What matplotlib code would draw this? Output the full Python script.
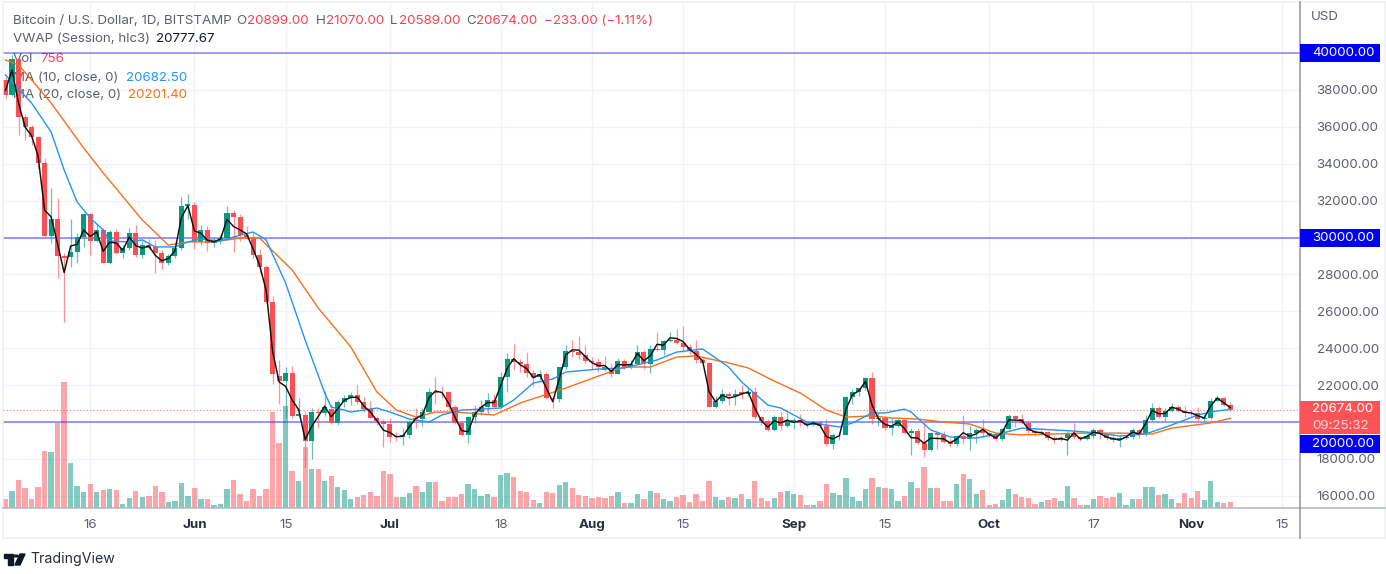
import datetime as dt
import numpy as np
import matplotlib
matplotlib.use("Agg")
import matplotlib.pyplot as plt
from matplotlib.lines import Line2D
from matplotlib.patches import Rectangle, Circle, Polygon

# --- DATA (daily candles from 3 May to 7 Nov) ---
opens = [
    38540, 37720, 39680, 36530, 36000, 35450, 34040, 30080, 31000, 29000, 28970, 29240, 30030, 31270, 29810, 30400,
    28620, 30300, 29160, 29430, 30240, 29050, 29600, 29480, 29160, 28620, 29000, 29430, 31710,
    31780, 29760, 30400, 29690, 29860, 29950, 31330, 31100, 30130, 30050, 29060, 28400, 26500, 22470, 22200,
    22630, 20330, 20400, 18980, 20570, 20500, 20720, 19950, 21100, 21290, 21480, 21080, 20700, 20240, 20070,
    19880, 19250, 19200, 19290, 20230, 20190, 20560, 21640, 21580, 21600, 20830, 19970, 19320, 20250, 20570, 20830,
    21190, 20800, 22430, 23400, 23230, 23150, 22660, 22450, 22600, 21300, 21240, 22960, 23830, 23770, 23640,
    23300, 23270, 23000, 22820, 22620, 23310, 22960, 23170, 23810, 23170, 23950, 23880, 24400, 24450, 24300,
    24090, 23860, 23340, 23200, 20840, 21130, 21520, 21400, 21650, 21530, 21600, 20260, 20030, 19550, 20290, 19800,
    20050, 20130, 19950, 19830, 20000, 19790, 18790, 19290, 19320, 21360, 21650, 21830, 22400, 20170, 20230,
    19700, 19800, 20110, 19420, 19540, 18880, 18490, 19420, 19290, 18920, 18800, 19220, 19080, 19400, 19590,
    19420, 19310, 19060, 19620, 20340, 20160, 19950, 19530, 19420, 19440, 19130, 19050, 19150, 19380, 19180, 19070,
    19260, 19550, 19330, 19120, 19040, 19160, 19210, 19570, 19330, 20090, 20770, 20290, 20590, 20830, 20620,
    20490, 20480, 20150, 20210, 21150, 21300, 20899,
]
highs = [
    38700, 39900, 39800, 36700, 36100, 35500, 34300, 32680, 32140, 29150, 31000, 30250, 31350, 31320, 30730, 30500,
    30400, 30450, 29600, 30500, 30680, 29800, 29900, 29850, 29300, 29100, 29500, 32200, 32360,
    31930, 30700, 30600, 29950, 30150, 31700, 31500, 31300, 30650, 30300, 29400, 28500, 26830, 23360, 22960,
    23030, 21300, 20600, 20750, 20750, 21680, 20950, 21200, 21450, 21600, 21980, 21350, 21150, 20350, 20150,
    20200, 19450, 19650, 20100, 20750, 20750, 21850, 22450, 21950, 21620, 20900, 20050, 20300, 20900, 21200, 21550,
    21500, 22730, 23740, 24250, 23400, 23800, 22800, 22800, 22700, 21350, 23000, 24200, 24460, 24660, 24150,
    23500, 23450, 23600, 23150, 23450, 23400, 23350, 24200, 23900, 24200, 24900, 24450, 24880, 25050, 25200,
    24250, 24450, 23600, 23250, 21400, 21800, 21600, 21800, 22000, 21900, 21900, 20350, 20150, 20400, 20550, 20500,
    20200, 20450, 20000, 20050, 20050, 20150, 19400, 19450, 21400, 21800, 21850, 22450, 22730, 20500, 20350,
    20200, 20150, 20150, 19700, 19700, 19950, 19480, 19500, 19500, 19150, 19300, 20380, 19800, 19650, 20170,
    19480, 19400, 19700, 20450, 20380, 20440, 20050, 19620, 19550, 19520, 19250, 19220, 19500, 19950, 19220, 19350,
    19650, 19700, 19360, 19350, 19250, 19250, 19700, 19600, 20400, 21050, 20850, 20750, 21050, 20930, 20850,
    20650, 20800, 20400, 21300, 21480, 21360, 21070,
]
lows = [
    37500, 37650, 35550, 35280, 35000, 33700, 30050, 29700, 27800, 25420, 28400, 28600, 29500, 29050, 29780, 28600,
    28550, 29100, 28900, 29350, 28950, 28900, 29300, 28070, 28300, 28500, 28900, 29350, 31000,
    29400, 29600, 29250, 29500, 29650, 29900, 29200, 29800, 29900, 28900, 28050, 26450, 22050, 20950, 20200,
    20200, 20250, 17570, 18000, 19650, 20350, 19900, 19850, 20800, 20900, 21000, 20550, 20200, 19850, 18640,
    18900, 18950, 18750, 19150, 19650, 19800, 20500, 21000, 21300, 20650, 19900, 19250, 18860, 19950, 20400, 20450,
    20750, 20750, 21600, 22800, 22700, 22450, 21950, 22300, 21250, 20750, 21100, 22900, 23500, 23400, 23200,
    22900, 22700, 22750, 22450, 22600, 22900, 22850, 23150, 22900, 22650, 23850, 23650, 24350, 24250, 23800,
    23700, 23200, 23150, 20800, 20780, 21050, 20900, 20900, 21250, 21400, 20150, 19850, 19500, 19500, 19550, 19750,
    19600, 19800, 19650, 19800, 19650, 18700, 18550, 19000, 19300, 21000, 21400, 21750, 19900, 19800, 19550,
    19300, 19750, 19350, 18200, 18800, 18100, 18450, 18550, 18850, 18650, 18700, 18800, 18500, 18850, 19200,
    19200, 18950, 18950, 19550, 19750, 19880, 19350, 19250, 19300, 19000, 18850, 18980, 18190, 19100, 18950, 19050,
    19150, 19100, 19050, 18900, 18650, 19100, 19080, 19150, 19250, 20050, 20200, 20050, 20550, 20550, 20250,
    20350, 20050, 20050, 20180, 21120, 20880, 20589,
]
closes = [
    37720, 39680, 36530, 36000, 35450, 34040, 30080, 31000, 29000, 28880, 29240, 30030, 31270, 29810, 30400, 28620,
    30300, 29160, 29430, 30240, 29050, 29600, 29430, 29160, 28620, 29000, 29430, 31710, 31790,
    29760, 30400, 29690, 29860, 29950, 31330, 31100, 30130, 30050, 29060, 28400, 26500, 22600, 22200, 22630,
    20330, 20450, 18980, 20570, 20500, 20800, 19950, 21100, 21290, 21480, 21080, 20700, 20240, 20070, 19880,
    19200, 19200, 19290, 20000, 20190, 20560, 21640, 21580, 21560, 20830, 19970, 19320, 20250, 20570, 20830, 21190,
    20800, 22430, 23400, 23230, 23150, 22660, 22450, 22600, 21300, 21240, 22960, 23830, 23770, 23640, 23300,
    23270, 23000, 22820, 22620, 23310, 22960, 23170, 23810, 23170, 23950, 23880, 24400, 24450, 24300, 24090,
    23860, 23340, 23200, 20840, 21130, 21520, 21400, 21530, 21520, 21600, 20260, 20030, 19550, 20290, 19800, 20050,
    20130, 19950, 19830, 20000, 19790, 18790, 19290, 19320, 21360, 21650, 21830, 22400, 20170, 20230, 19700,
    19800, 20110, 19420, 19540, 18880, 18490, 19420, 19290, 18920, 18800, 19220, 19080, 19400, 19590, 19420,
    19310, 19060, 19620, 20340, 20160, 19950, 19530, 19420, 19440, 19130, 19050, 19150, 19380, 19180, 19070, 19260,
    19550, 19330, 19120, 19040, 19160, 19210, 19570, 19330, 20090, 20770, 20290, 20590, 20830, 20620, 20490,
    20480, 20150, 20210, 21150, 21300, 20920, 20674,
]
vwap = [
    37970, 39080, 37290, 35990, 35520, 34410, 31480, 31120, 29650, 28100, 29540, 29630, 30410, 30060, 30300, 29250,
    29750, 29700, 29310, 30030, 29560, 29430, 29540, 29030, 28740, 28870, 29280, 31090, 31720,
    30360, 30230, 29850, 29770, 29920, 30980, 30600, 30410, 30200, 29390, 28500, 27150, 23830, 22170, 21930,
    21190, 20670, 19050, 19770, 20300, 20860, 20280, 20720, 21180, 21330, 21350, 20870, 20550, 20080, 19560,
    19430, 19200, 19230, 19750, 20200, 20370, 21330, 21680, 21600, 21030, 20260, 19540, 19470, 20400, 20800, 21060,
    21050, 21960, 22910, 23430, 23100, 22900, 22400, 22570, 21850, 21100, 22350, 23640, 23910, 23900, 23550,
    23220, 23050, 23060, 22740, 23120, 23090, 23120, 23720, 23320, 23600, 24210, 24170, 24560, 24530, 24360,
    23940, 23660, 23320, 21630, 21100, 21460, 21300, 21380, 21520, 21630, 20770, 20080, 19720, 20060, 19960, 20100,
    19980, 20070, 19830, 19950, 19830, 19210, 19080, 19260, 20690, 21480, 21690, 22200, 20930, 20180, 19870,
    19770, 20000, 19640, 19150, 19130, 18850, 19120, 19110, 19090, 18870, 19070, 19420, 19230, 19360, 19600,
    19330, 19140, 19440, 20120, 20100, 20090, 19630, 19460, 19420, 19220, 19050, 19120, 19020, 19410, 19080, 19220,
    19450, 19380, 19180, 19100, 19020, 19190, 19450, 19360, 19910, 20630, 20450, 20460, 20810, 20700, 20530,
    20490, 20340, 20220, 20880, 21300, 21050, 20780,
]
# volume in bar heights as read, one unit is roughly 126 on the chart's own scale
volumes = [
    9, 17, 28, 20, 9, 21, 57, 56, 85, 126, 45, 22, 16, 24, 16, 18, 19, 18, 4, 10, 17, 11, 12, 22, 16, 6, 7, 25, 12,
    20, 9, 9, 3, 4, 19, 28, 14, 7, 19, 12, 19, 96, 65, 102, 37, 27, 61, 39, 39, 27, 32, 21, 18, 9, 11, 13, 16, 12, 37,
    34, 11, 11, 15, 22, 16, 26, 26, 7, 11, 11, 14, 24, 19, 12, 14, 11, 33, 35, 31, 17, 16, 8, 5, 16, 15, 23, 26, 20, 13, 12,
    10, 11, 10, 12, 16, 5, 5, 14, 9, 17, 15, 9, 7, 11, 13, 6, 14, 7, 27, 11, 8, 11, 10, 14, 9, 27, 10, 7, 10, 16, 17,
    14, 13, 3, 3, 7, 24, 15, 13, 30, 11, 7, 19, 30, 21, 20, 19, 7, 12, 26, 20, 41, 20, 20, 7, 7, 24, 34, 29, 14, 18,
    3, 4, 8, 19, 14, 11, 10, 4, 6, 8, 10, 7, 22, 10, 3, 3, 9, 12, 10, 11, 15, 3, 9, 9, 21, 21, 13, 14, 9, 5, 15,
    10, 17, 8, 27, 6, 5, 6,
]
ma10_days = [0, 4, 7, 9, 11, 13, 15, 16, 19, 21, 23, 26, 28, 30, 33, 35, 38, 40, 43, 46, 49, 50, 52, 53, 57, 59, 62, 65, 67, 70, 73, 76, 78, 81, 84, 86, 91, 95, 100, 103, 107, 111, 113, 117, 119, 123, 128, 130, 133, 135, 138, 139, 142, 145, 149, 153, 156, 164, 168, 171, 175, 179, 183, 186, 188]
ma10_vals = [38810, 37290, 35720, 33660, 31920, 31060, 30410, 29810, 29760, 29870, 29490, 29490, 29760, 29920, 29810, 30030, 30300, 29870, 27530, 24440, 21570, 20810, 20650, 20540, 20760, 20540, 20160, 20000, 20380, 20650, 20700, 20760, 21190, 22110, 22330, 22710, 22870, 22930, 23360, 23790, 23960, 22980, 22170, 20920, 20760, 20000, 19730, 19950, 20490, 20490, 20700, 20540, 19570, 19190, 19130, 19400, 19670, 19510, 19400, 19240, 19350, 19840, 20380, 20600, 20682]
ma20_days = [0, 2, 4, 7, 12, 15, 21, 25, 28, 32, 36, 39, 44, 48, 53, 57, 60, 63, 66, 69, 75, 79, 86, 91, 95, 99, 103, 106, 111, 114, 118, 122, 126, 129, 133, 136, 140, 144, 148, 152, 156, 161, 165, 171, 176, 179, 185, 188]
ma20_vals = [39620, 39350, 38540, 37290, 34850, 33500, 30950, 29590, 29760, 29760, 29970, 29970, 28240, 26180, 24070, 21630, 20650, 20270, 20540, 20540, 20380, 21030, 21840, 22490, 22980, 22980, 23520, 23580, 23200, 22930, 22220, 21570, 20650, 20270, 20330, 20220, 20160, 20000, 19890, 19400, 19300, 19350, 19400, 19400, 19350, 19670, 19950, 20201]
level_lines = [40000, 30000, 20000]
price_ticks = list(range(16000, 40000, 2000))
time_ticks = ["2022-05-16", "2022-06-01", "2022-06-15", "2022-07-01", "2022-07-18", "2022-08-01", "2022-08-15",
              "2022-09-01", "2022-09-15", "2022-10-01", "2022-10-17", "2022-11-01", "2022-11-15"]
time_labels = ["16", "Jun", "15", "Jul", "18", "Aug", "15", "Sep", "15", "Oct", "17", "Nov", "15"]
# -------------------------------------------------------------------

W, H = 1386, 574
GREEN, RED = "#089981", "#fb4f54"
TEXT_RED = "#f9404e"
ORANGE, BLUE = "#f5701c", "#2196f3"
GREY, DARK = "#5d606b", "#2a2e39"
plt.rcParams["font.family"] = ["Inter", "DejaVu Sans"]


def fx(x):
    return x / W


def fy(y):
    return 1 - y / H


def label(x, y, s, color=GREY, size=9.6, **kw):
    # va=center sits a little high with this font
    fig.text(fx(x), fy(y + 1.5), s, color=color, fontsize=size, va="center", zorder=1.5, **kw)


fig = plt.figure(figsize=(W / 100, H / 100), dpi=100, facecolor="white")
rect = [fx(3), fy(508), fx(1300 - 3), (508 - 3) / H]

# grid and price scale sit at the bottom, volume above, candles on top
ax = fig.add_axes(rect, zorder=1)
vol_ax = ax.twinx()
candle_ax = ax.twinx()
vol_ax.set_zorder(2)
candle_ax.set_zorder(3)
for a in (ax, vol_ax, candle_ax):
    a.patch.set_visible(False)
    for s in a.spines.values():
        s.set_visible(False)

days = np.arange(len(closes))
start = dt.date(2022, 5, 3)
tick_days = [(dt.date.fromisoformat(d) - start).days for d in time_ticks]
o, h, l, c = map(np.array, (opens, highs, lows, closes))
colors = np.where(c >= o, GREEN, RED)

ax.set_xlim(-0.385, 198.7)
price_lim = (15340, 42710)
ax.set_ylim(price_lim)
ax.set_yticks(price_ticks)
ax.set_xticks(tick_days)
ax.set_xticklabels(time_labels)
ax.yaxis.tick_right()
hidden = {20000, 30000}
ax.set_yticklabels(["" if p in hidden else f"{p}.00" for p in price_ticks])
ax.grid(True, color="#f0f3fa", lw=1)
ax.set_axisbelow(True)
ax.tick_params(length=0, labelsize=9.6, labelcolor=GREY)
ax.tick_params(axis="y", pad=12)
ax.tick_params(axis="x", pad=8)
for t, s in zip(ax.get_xticklabels(), time_labels):
    if not s.isdigit():
        t.set_fontweight("bold")
        t.set_color(DARK)

vol_ax.set_ylim(0, 505)
vol_ax.set_yticks([])
vol_ax.set_xlim(ax.get_xlim())
vol_ax.bar(days, volumes, width=0.82, color=colors, alpha=0.5, linewidth=0)

candle_ax.set_ylim(price_lim)
candle_ax.set_yticks([])
candle_ax.set_xlim(ax.get_xlim())
candle_ax.tick_params(length=0, labelbottom=False)
for lv in level_lines:
    candle_ax.axhline(lv, color="#2a2ae8", alpha=0.5, lw=1.3, zorder=2)
candle_ax.axhline(closes[-1], color=RED, lw=0.8, ls=(0, (1, 2)), alpha=0.8, zorder=2)
candle_ax.vlines(days, l, h, colors=colors, lw=0.9, alpha=0.6, zorder=3)
candle_ax.bar(days, np.abs(c - o), bottom=np.minimum(o, c), width=0.78, color=colors, linewidth=0, zorder=4)
candle_ax.plot(ma20_days, ma20_vals, color=ORANGE, lw=1.0, zorder=5)
candle_ax.plot(ma10_days, ma10_vals, color=BLUE, lw=1.0, zorder=5)
candle_ax.plot(days, vwap, color="#111111", lw=1.05, zorder=6)

# frame lines, these are outside the data area
frame = [((3, 3), (2, 538), "#eef0f5"), ((3, 1385), (2, 2), "#eef0f5"), ((3, 1385), (538, 538), "#eef0f5"),
         ((1385, 1385), (2, 538), "#eef0f5"), ((3, 1385), (508, 508), "#b2b5be"), ((1300, 1300), (2, 538), "#8f929c")]
for xs, ys, col in frame:
    fig.add_artist(Line2D([fx(v) for v in xs], [fy(v) for v in ys], color=col, lw=1.1, zorder=4))

# legend text block
label(13, 19, "Bitcoin / U.S. Dollar, 1D, BITSTAMP")
for x, s, col in [(236, "O", GREY), (247, "20899.00", TEXT_RED), (316, "H", GREY), (326, "21070.00", TEXT_RED),
                  (390, "L", GREY), (399, "20589.00", TEXT_RED), (466, "C", GREY), (476, "20674.00", TEXT_RED),
                  (544, "\u2212233.00 (\u22121.11%)", TEXT_RED)]:
    label(x, 19, s, col)
label(13, 38, "VWAP (Session, hlc3)")
label(156, 38, "20777.67", "#131722")
label(13, 57, "Vol")
label(40, 57, "756", TEXT_RED)
label(13, 76, "MA (10, close, 0)")
label(126, 76, "20682.50", BLUE)
label(13, 94, "MA (20, close, 0)")
label(128, 94, "20201.40", ORANGE)

# price scale boxes
label(1311, 15, "USD", size=9.6)
boxes = [(44, 62, "#0000f5", ["40000.00"]), (229, 247, "#0000f5", ["30000.00"]),
         (435, 453, "#0000f5", ["20000.00"]), (401, 434, "#fb5458", ["20674.00", "09:25:32"])]
for y0, y1, col, texts in boxes:
    fig.add_artist(Rectangle((fx(1300), fy(y1)), 80 / W, (y1 - y0) / H, transform=fig.transFigure,
                             facecolor=col, edgecolor="none", zorder=6))
    step = (y1 - y0) / len(texts)
    for i, s in enumerate(texts):
        alpha = 0.75 if ":" in s else 1
        fig.text(fx(1312), fy(y0 + step * (i + 0.5)), s, color="white", alpha=alpha, fontsize=9.6, va="center", zorder=7)

# TradingView mark and name
fig.add_artist(Polygon([(fx(a), fy(b)) for a, b in [(4, 554), (13, 554), (13, 565), (8, 565), (8, 558), (4, 558)]],
                       transform=fig.transFigure, color="#131722", zorder=6))
fig.add_artist(Circle((fx(16), fy(556)), 2.2 / W, transform=fig.transFigure, color="#131722", zorder=6))
fig.add_artist(Polygon([(fx(a), fy(b)) for a, b in [(20, 554), (25, 554), (20, 565), (15, 565)]],
                       transform=fig.transFigure, color="#131722", zorder=6))
label(30, 558, "TradingView", "#2a2e39", size=10.2)

fig.savefig("out.png", dpi=100)
